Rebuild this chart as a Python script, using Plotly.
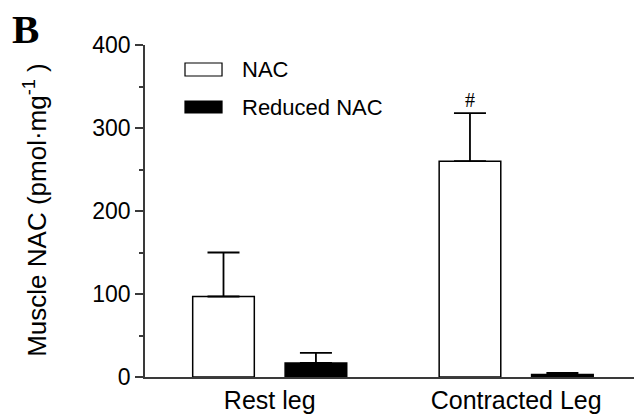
import plotly.graph_objects as go

categories = ["Rest leg", "Contracted Leg"]
nac_values = [97, 260]
nac_errors = [53, 58]
reduced_values = [17, 3]
reduced_errors = [12, 2]
series_names = ["NAC", "Reduced NAC"]
y_ticks = [0, 100, 200, 300, 400]

FONT = "Liberation Sans, Arial, sans-serif"
AXC = "#3a3a3a"

fig = go.Figure()
fig.add_trace(go.Bar(
    x=categories, y=nac_values, name=series_names[0],
    offset=-0.3125, width=0.25,
    marker=dict(color="white", line=dict(color="black", width=1.5)),
    error_y=dict(type="data", array=nac_errors, arrayminus=[0, 0], symmetric=False,
                 color="black", thickness=1.8, width=16),
    showlegend=False,
))
fig.add_trace(go.Bar(
    x=categories, y=reduced_values, name=series_names[1],
    offset=0.0625, width=0.25,
    marker=dict(color="black", line=dict(color="black", width=1.5)),
    error_y=dict(type="data", array=reduced_errors, arrayminus=[0, 0], symmetric=False,
                 color="black", thickness=1.8, width=16),
    showlegend=False,
))

# custom legend
leg = [(0.9458, 0.9066, "white", series_names[0]), (0.8313, 0.7952, "black", series_names[1])]
for y0, y1, col, name in leg:
    fig.add_shape(type="rect", xref="paper", yref="paper", x0=0.0818, x1=0.1575,
                  y0=y1, y1=y0, fillcolor=col, line=dict(color="black", width=1.2))
    fig.add_annotation(xref="paper", yref="paper", x=0.194, y=(y0 + y1) / 2,
                       text=name, showarrow=False, xanchor="left", yanchor="middle",
                       font=dict(family=FONT, size=22, color="black"))

# significance marker
fig.add_annotation(x=1 - 0.1875, y=nac_values[1] + nac_errors[1], xref="x", yref="y",
                   text="#", showarrow=False, yanchor="bottom", yshift=0,
                   font=dict(family="Liberation Serif, Times New Roman, serif", size=20, color="black"))

# panel label
fig.add_annotation(xref="paper", yref="paper", x=-0.276, y=1.125, xanchor="left", yanchor="top",
                   text="<b>B</b>", showarrow=False,
                   font=dict(family="Liberation Serif, Times New Roman, serif", size=41, color="black"))

# y-axis title
fig.add_annotation(xref="paper", yref="paper", x=-0.224, y=0.505, xanchor="center", yanchor="middle",
                   text="Muscle NAC (pmol·mg<sup>-1</sup> )", textangle=-90, showarrow=False,
                   font=dict(family=FONT, size=26, color="black"))

fig.update_layout(
    width=634, height=419,
    margin=dict(l=145, r=0, t=45, b=42),
    paper_bgcolor="white", plot_bgcolor="white",
    barmode="overlay",
    xaxis=dict(range=[-0.506, 1.478], showline=True, linecolor=AXC, linewidth=1.5,
               ticks="", showgrid=False, zeroline=False,
               tickfont=dict(family=FONT, size=25, color="black")),
    yaxis=dict(range=[0, 400], tickvals=y_ticks, showline=True, linecolor=AXC, linewidth=1.5,
               ticks="outside", ticklen=8, tickwidth=1.5, tickcolor=AXC,
               minor=dict(dtick=50, ticks="outside", ticklen=4, tickwidth=1.5, tickcolor=AXC),
               showgrid=False, zeroline=False,
               tickfont=dict(family=FONT, size=23, color="black")),
)

fig.write_html("out.html", config={"displayModeBar": False},
               post_script="document.body.style.margin='0';")
